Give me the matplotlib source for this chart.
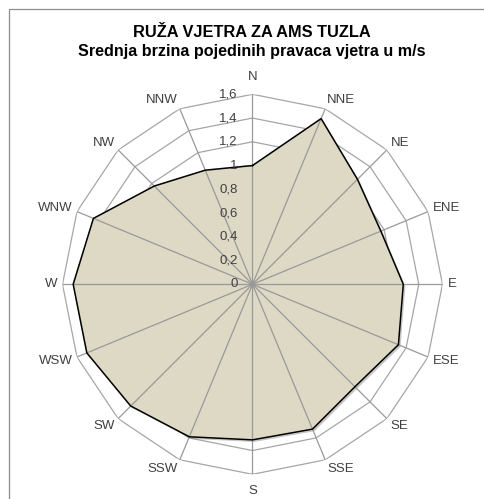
import numpy as np
import matplotlib
matplotlib.use("Agg")
import matplotlib.pyplot as plt
import matplotlib.patheffects as pe
from matplotlib.patches import Rectangle
from matplotlib.transforms import offset_copy

plt.rcParams["font.family"] = ["Liberation Sans", "DejaVu Sans"]

# data
directions = ["N", "NNE", "NE", "ENE", "E", "ESE", "SE", "SSE",
              "S", "SSW", "SW", "WSW", "W", "WNW", "NW", "NNW"]
speeds = [1.00, 1.51, 1.25, 1.17, 1.27, 1.33, 1.22, 1.32,
          1.31, 1.39, 1.45, 1.51, 1.51, 1.45, 1.17, 1.04]
ring_values = [0.2, 0.4, 0.6, 0.8, 1.0, 1.2, 1.4, 1.6]
ring_labels = ["0", "0,2", "0,4", "0,6", "0,8", "1", "1,2", "1,4", "1,6"]
title = "RUŽA VJETRA ZA AMS TUZLA"
subtitle = "Srednja brzina pojedinih pravaca vjetra u m/s"

W, H = 485, 499
fig = plt.figure(figsize=(W / 100, H / 100), dpi=100)

# chart area frame (cut at right and bottom like the reference)
fig.patches.append(Rectangle((9 / W, -0.1), 1.2, 1 - 9 / H + 0.1,
                             transform=fig.transFigure, fill=False,
                             edgecolor="#8c8c8c", linewidth=0.9))

fig.text(251.7 / W, 1 - 32.3 / H, title, ha="center",
         va="center", fontsize=11.8, fontweight="bold", color="black")
fig.text(251.7 / W, 1 - 51.5 / H, subtitle,
         ha="center", va="center", fontsize=11.6, fontweight="bold", color="black")

cx, cy, R = 252.5, 284.3, 190
ax = fig.add_axes([(cx - R) / W, (H - cy - R) / H, 2 * R / W, 2 * R / H],
                  projection="polar")
ax.set_theta_zero_location("N")
ax.set_theta_direction(-1)
ax.set_ylim(0, 1.6)
ax.grid(False)
ax.spines["polar"].set_visible(False)
ax.set_xticks([])
ax.set_yticks([])
ax.patch.set_alpha(0)

theta = np.linspace(0, 2 * np.pi, len(directions), endpoint=False)
theta_c = np.append(theta, theta[0])

# polygon rings
for r in ring_values:
    ax.plot(theta_c, [r] * len(theta_c), color="#a6a6a6", linewidth=0.9, zorder=1)

# filled series
vals = np.append(speeds, speeds[0])
ax.fill(theta_c, vals, color="#ddd9c4", zorder=2,
        path_effects=[pe.SimplePatchShadow(offset=(1.5, -1.5), alpha=0.35,
                                           shadow_rgbFace="#606060"), pe.Normal()])

# spokes on top of the fill
for t in theta:
    ax.plot([t, t], [0, 1.6], color="#999999", linewidth=0.9, zorder=3)

ax.plot(theta_c, vals, color="black", linewidth=1.1, zorder=4)

# direction labels
for t, name in zip(theta, directions):
    s, c = np.sin(t), np.cos(t)
    if abs(s) < 0.01:
        ha = "center"
        va = "bottom" if c > 0 else "top"
        dx, dy = 0, 11 * np.sign(c)
    else:
        ha = "left" if s > 0 else "right"
        va = "center"
        dx, dy = 5 * s, 10 * c
    tr = offset_copy(ax.transData, fig=fig, x=dx, y=dy, units="dots")
    ax.text(t, 1.6, name, transform=tr, ha=ha, va=va, fontsize=9.5,
            color="#404040", zorder=6)

# radial value labels
tr = offset_copy(ax.transData, fig=fig, x=-15, y=0, units="dots")
for r, lab in zip([0] + ring_values, ring_labels):
    ax.text(0, r, lab, transform=tr, ha="right", va="center", fontsize=9.5,
            color="#404040", zorder=6)

fig.savefig("out.png", dpi=100)
